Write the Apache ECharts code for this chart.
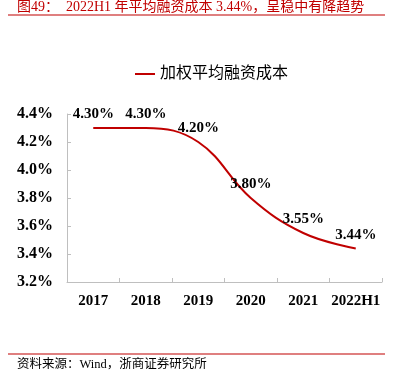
<!DOCTYPE html>
<html>
<head>
<meta charset="utf-8">
<script src="https://cdn.jsdelivr.net/npm/echarts@6/dist/echarts.min.js"></script>
<style>
html,body{margin:0;padding:0;background:#fff;}
#chart{width:393px;height:379px;}
</style>
</head>
<body>
<div id="chart"></div>
<script>
const categories = ['2017', '2018', '2019', '2020', '2021', '2022H1'];
const seriesName = '加权平均融资成本';
const values = [4.30, 4.30, 4.20, 3.80, 3.55, 3.44];
const yTicks = [3.2, 3.4, 3.6, 3.8, 4.0, 4.2, 4.4];
const titleText = '图49：  2022H1 年平均融资成本 3.44%，呈稳中有降趋势';
const sourceText = '资料来源：Wind，浙商证券研究所';

const serif = '"Times New Roman", "Liberation Serif", "Noto Sans CJK SC", serif';
const cjk = '"Liberation Serif", "Noto Sans CJK SC", serif';
const red = '#c00000';

const chart = echarts.init(document.getElementById('chart'));
chart.setOption({
  animation: false,
  backgroundColor: '#fff',
  graphic: [
    { type: 'text', left: 17, top: 0, style: { text: titleText, font: '14px ' + cjk, fill: red } },
    { type: 'line', shape: { x1: 8, y1: 15, x2: 385, y2: 15 }, style: { stroke: red, lineWidth: 1.2 } },
    { type: 'line', shape: { x1: 8, y1: 354, x2: 385, y2: 354 }, style: { stroke: red, lineWidth: 1.2 } },
    { type: 'text', left: 17, top: 358, style: { text: sourceText, font: '12.5px ' + cjk, fill: '#000' } }
  ],
  legend: {
    top: 61,
    left: 130,
    itemWidth: 20,
    itemHeight: 2,
    itemGap: 5,
    icon: 'rect',
    itemStyle: { color: red, opacity: 1 },
    textStyle: { fontSize: 16, color: '#000', fontFamily: cjk },
    data: [seriesName]
  },
  grid: { left: 67, right: 11, top: 114, bottom: 97 },
  xAxis: {
    type: 'category',
    data: categories,
    boundaryGap: true,
    axisLine: { lineStyle: { color: '#bfbfbf' } },
    axisTick: { show: true, inside: true, length: 4, alignWithLabel: false, lineStyle: { color: '#bfbfbf' } },
    axisLabel: { interval: 0, margin: 12, fontSize: 15, fontWeight: 'bold', color: '#000', fontFamily: serif }
  },
  yAxis: {
    type: 'value',
    min: yTicks[0],
    max: yTicks[yTicks.length - 1],
    interval: 0.2,
    axisLine: { show: true, lineStyle: { color: '#bfbfbf' } },
    axisTick: { show: true, inside: true, length: 4, lineStyle: { color: '#bfbfbf' } },
    splitLine: { show: false },
    axisLabel: {
      margin: 14,
      fontSize: 16,
      fontWeight: 'bold',
      color: '#000',
      fontFamily: serif,
      formatter: v => v.toFixed(1) + '%'
    }
  },
  series: [{
    name: seriesName,
    type: 'line',
    data: values,
    smooth: 0.4,
    symbol: 'circle',
    symbolSize: 0.1,
    showSymbol: true,
    lineStyle: { color: red, width: 2 },
    itemStyle: { color: red },
    labelLayout: { hideOverlap: false },
    label: {
      show: true,
      position: 'top',
      distance: 6,
      fontSize: 15,
      fontWeight: 'bold',
      color: '#000',
      fontFamily: serif,
      formatter: p => Number(p.value).toFixed(2) + '%'
    }
  }]
});
</script>
</body>
</html>
